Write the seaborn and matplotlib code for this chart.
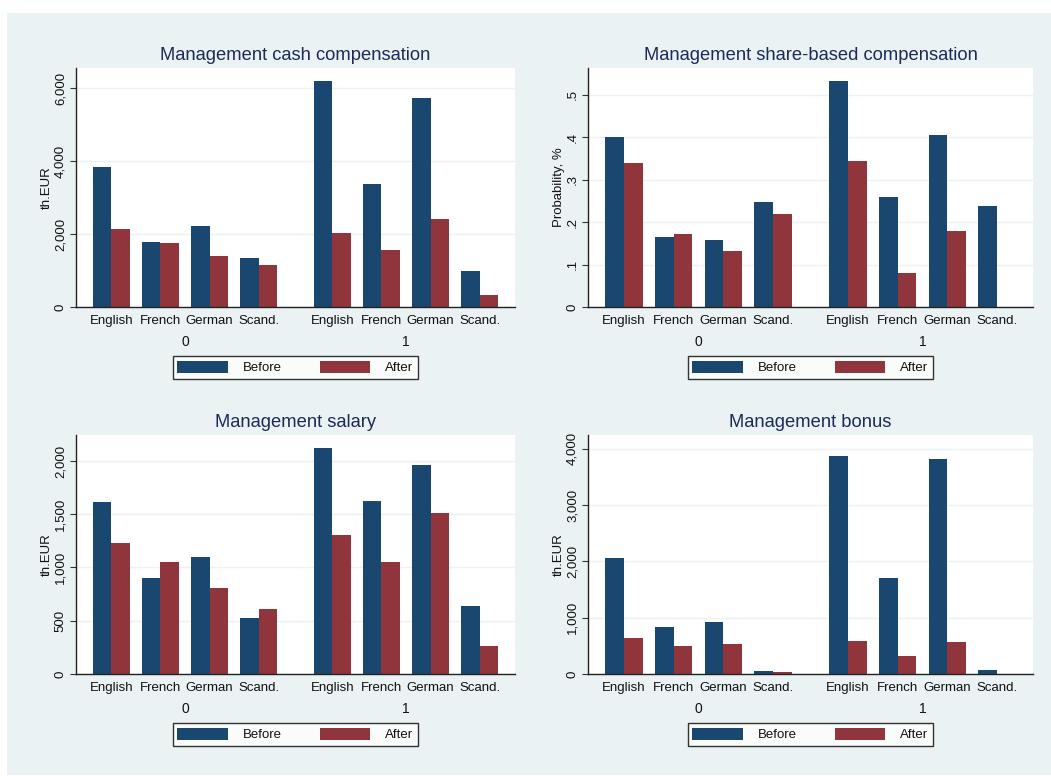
import numpy as np
import pandas as pd
import matplotlib
matplotlib.use("Agg")
import matplotlib.pyplot as plt
from matplotlib.patches import Rectangle, Patch
from matplotlib.ticker import FixedLocator, FuncFormatter
import seaborn as sns

# ---- data -------------------------------------------------------------
languages = ["English", "French", "German", "Scand."]
groups = ["0", "1"]
periods = ["Before", "After"]

cash_before = [3845, 1795, 2210, 1355, 6190, 3375, 5715, 1000]
cash_after = [2145, 1755, 1400, 1155, 2020, 1565, 2400, 330]

share_before = [0.400, 0.164, 0.159, 0.248, 0.532, 0.258, 0.406, 0.237]
share_after = [0.340, 0.171, 0.133, 0.219, 0.344, 0.080, 0.180, 0.0]

salary_before = [1612, 905, 1096, 523, 2119, 1624, 1959, 639]
salary_after = [1233, 1055, 808, 607, 1305, 1049, 1509, 266]

bonus_before = [2060, 830, 925, 60, 3876, 1698, 3810, 70]
bonus_after = [640, 505, 527, 36, 586, 325, 574, 0]

cash_ticks = [0, 2000, 4000, 6000]
share_ticks = [0, 0.1, 0.2, 0.3, 0.4, 0.5]
salary_ticks = [0, 500, 1000, 1500, 2000]
bonus_ticks = [0, 1000, 2000, 3000, 4000]

# ---- style ------------------------------------------------------------
NAVY = "#1A476F"
MAROON = "#90353B"
BG = "#EAF2F3"
TITLE_C = "#1C2A58"
TEXT_C = "#111111"

sns.set_theme(style="white")
plt.rcParams["font.family"] = ["Liberation Sans", "DejaVu Sans"]
plt.rcParams["text.color"] = TEXT_C
plt.rcParams["axes.labelcolor"] = TEXT_C
plt.rcParams["xtick.color"] = TEXT_C
plt.rcParams["ytick.color"] = TEXT_C

W, H = 1051, 776
fig = plt.figure(figsize=(W / 100, H / 100), dpi=100, facecolor="white")
fig.add_artist(Rectangle((7 / W, 1 / H), 1 - 7 / W, 1 - 14 / H,
                         transform=fig.transFigure, facecolor=BG,
                         edgecolor="none", zorder=-10))

# bar-pair positions: two language groups separated by an extra half slot
gap = 1.5
xpos = [i + (gap - 1) * (i // 4) for i in range(8)]


def fmt_thousands(v, _):
    return f"{v:,.0f}"


def fmt_prob(v, _):
    return "0" if v == 0 else f"{v:.1f}".lstrip("0")


panels = [
    ("Management cash compensation", "th.EUR", cash_before, cash_after,
     cash_ticks, 6550, fmt_thousands, (76, 68, 515, 307)),
    ("Management share-based compensation", "Probability, %", share_before,
     share_after, share_ticks, 0.563, fmt_prob, (588, 68, 1033, 307)),
    ("Management salary", "th.EUR", salary_before, salary_after,
     salary_ticks, 2244, fmt_thousands, (76, 435, 515, 674)),
    ("Management bonus", "th.EUR", bonus_before, bonus_after,
     bonus_ticks, 4242, fmt_thousands, (588, 435, 1033, 674)),
]

for title, ylab, before, after, ticks, ymax, fmt, (l, t, r, b) in panels:
    ax = fig.add_axes([l / W, 1 - b / H, (r - l) / W, (b - t) / H])
    df = pd.DataFrame({
        "x": xpos * 2,
        "value": list(before) + list(after),
        "period": ["Before"] * 8 + ["After"] * 8,
    })
    sns.barplot(data=df, x="x", y="value", hue="period", hue_order=periods,
                palette=[NAVY, MAROON], native_scale=True, width=0.755,
                dodge=True, linewidth=0, errorbar=None, legend=False, ax=ax,
                saturation=1)

    ax.set_facecolor("white")
    ax.set_xlim(-0.72, xpos[-1] + 0.72)
    ax.set_ylim(0, ymax)

    ax.yaxis.set_major_locator(FixedLocator(ticks))
    ax.yaxis.set_major_formatter(FuncFormatter(fmt))
    ax.grid(axis="y", color=BG, linewidth=1.0)
    ax.set_axisbelow(True)
    ax.tick_params(axis="y", direction="out", length=4.3, width=0.8,
                   color="#333333", pad=2.5, labelsize=9.5,
                   labelrotation=90, left=True)
    for lbl in ax.get_yticklabels():
        lbl.set_va("center")

    ax.set_xticks(xpos)
    ax.set_xticklabels(languages * 2)
    ax.tick_params(axis="x", length=0, pad=6, labelsize=9.5)

    for side in ("top", "right"):
        ax.spines[side].set_visible(False)
    for side in ("left", "bottom"):
        ax.spines[side].set_color("#222222")
        ax.spines[side].set_linewidth(1.0)

    ax.set_xlabel("")
    ax.set_ylabel(ylab, fontsize=9.5, labelpad=1)
    ax.set_title(title, fontsize=13.2, color=TITLE_C, pad=6)

    # group labels under each block of languages
    trans = ax.get_xaxis_transform()
    for g, name in enumerate(groups):
        cx = np.mean(xpos[g * 4:(g + 1) * 4])
        ax.text(cx, -0.145, name, transform=trans, ha="center", va="center",
                fontsize=10)

    handles = [Patch(facecolor=NAVY, edgecolor="none"),
               Patch(facecolor=MAROON, edgecolor="none")]
    leg = ax.legend(handles, periods, loc="upper center",
                    bbox_to_anchor=(0.5, -0.205), ncol=2, fontsize=9.5,
                    frameon=True, fancybox=False, handlelength=3.8,
                    handleheight=1.05, handletextpad=1.15,
                    columnspacing=2.9, borderpad=0.35, borderaxespad=0)
    leg.get_frame().set_edgecolor("black")
    leg.get_frame().set_linewidth(1.0)
    leg.get_frame().set_facecolor("white")

fig.savefig("out.png", dpi=100, facecolor="white")
